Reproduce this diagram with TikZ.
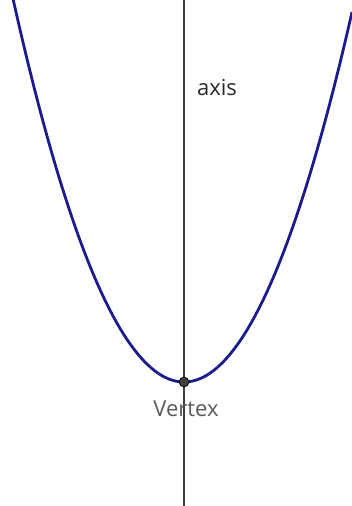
\documentclass[tikz,border=0pt]{standalone}
\usepackage{fontspec}
\setmainfont{Open Sans}
\definecolor{curveblue}{HTML}{1C1C8E}
\definecolor{axisgray}{HTML}{3E3E3E}
\definecolor{labelgray}{HTML}{5A5A5A}
\definecolor{textdark}{HTML}{2A2A2A}
\tikzset{
  curve/.style={curveblue, line width=2.8pt},
  axisline/.style={axisgray, line width=1.6pt},
  vertexdot/.style={circle, fill=axisgray, draw=black, line width=0.6pt, minimum size=10pt, inner sep=0pt},
  lbl/.style={font=\fontsize{22}{26}\selectfont, inner sep=0pt}
}
\begin{document}
\begin{tikzpicture}[x=1pt,y=1pt]
\useasboundingbox (0,0) rectangle (352,-506);
\begin{scope}
\clip (0,0) rectangle (352,-506);
\coordinate (top) at (184,0);
\coordinate (bot) at (184,-506);
\draw[axisline] (top) -- (bot);
\draw[curve, domain=0:352, samples=120, smooth] plot (\x, {-(382 - 0.0131*(\x-184)*(\x-184))});
\node[vertexdot] (v) at (184,-382) {};
\end{scope}
\node[lbl, text=textdark] (axislbl) at (217,-88) {axis};
\node[lbl, text=labelgray] (vlbl) at (186,-409) {Vertex};
\end{tikzpicture}
\end{document}
